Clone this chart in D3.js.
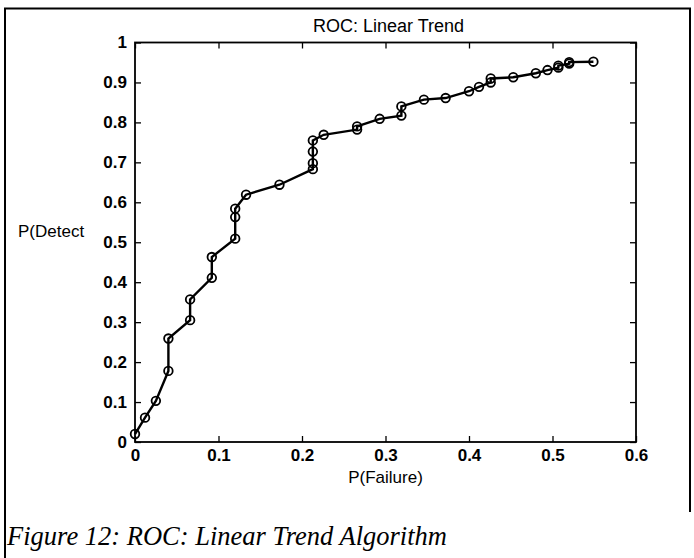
<!DOCTYPE html>
<html>
<head>
<meta charset="utf-8">
<script src="https://cdn.jsdelivr.net/npm/d3@7"></script>
<style>
  body { margin: 0; background: #fff; }
  svg { display: block; }
</style>
</head>
<body>
<script>
// ROC points (in drawing order)
var pFailure = [0, 0.012, 0.025, 0.04, 0.04, 0.066, 0.066, 0.092, 0.092, 0.12,
                0.12, 0.12, 0.133, 0.173, 0.213, 0.213, 0.213, 0.213, 0.226, 0.266,
                0.266, 0.293, 0.319, 0.319, 0.346, 0.372, 0.4, 0.412, 0.426, 0.426,
                0.453, 0.48, 0.494, 0.507, 0.507, 0.52, 0.52, 0.549];
var pDetect = [0.02, 0.061, 0.103, 0.178, 0.259, 0.305, 0.357, 0.411, 0.463, 0.509,
               0.563, 0.584, 0.619, 0.644, 0.683, 0.698, 0.727, 0.755, 0.769, 0.782,
               0.79, 0.809, 0.817, 0.84, 0.857, 0.861, 0.878, 0.889, 0.9, 0.91,
               0.913, 0.923, 0.931, 0.937, 0.942, 0.947, 0.951, 0.952];
var xTicks = [0, 0.1, 0.2, 0.3, 0.4, 0.5, 0.6];
var yTicks = [0, 0.1, 0.2, 0.3, 0.4, 0.5, 0.6, 0.7, 0.8, 0.9, 1];

var width = 694, height = 558;
var plot = {left: 135, right: 636, top: 42.5, bottom: 442};

var svg = d3.select('body')
    .append('svg')
    .attr('width', width)
    .attr('height', height);

// frame of the scanned page
svg.append('path')
    .attr('d', 'M5,558 V8.5 H690 V512')
    .attr('fill', 'none')
    .attr('stroke', 'black')
    .attr('stroke-width', 2);

var x = d3.scaleLinear().domain([0, 0.6]).range([plot.left, plot.right]);
var y = d3.scaleLinear().domain([0, 1]).range([plot.bottom, plot.top]);

var tickFont = '"Liberation Sans", Arial, sans-serif';

// matlab style: ticks inward on every side
function styleAxis(g) {
  g.select('.domain').remove();
  g.selectAll('.tick line').attr('stroke', 'black').attr('stroke-width', 1.3);
  g.selectAll('.tick text')
    .attr('fill', 'black')
    .style('font-family', tickFont)
    .style('font-weight', 'bold')
    .style('font-size', '17px');
}

svg.append('g')
    .attr('transform', 'translate(0,' + plot.bottom + ')')
    .call(d3.axisBottom(x).tickValues(xTicks).tickFormat(d3.format('')).tickSize(-6).tickPadding(7))
    .call(styleAxis);
svg.append('g')
    .attr('transform', 'translate(0,' + plot.top + ')')
    .call(d3.axisTop(x).tickValues(xTicks).tickFormat('').tickSize(-6))
    .call(styleAxis);
svg.append('g')
    .attr('transform', 'translate(' + plot.left + ',0)')
    .call(d3.axisLeft(y).tickValues(yTicks).tickFormat(d3.format('')).tickSize(-6).tickPadding(8))
    .call(styleAxis);
svg.append('g')
    .attr('transform', 'translate(' + plot.right + ',0)')
    .call(d3.axisRight(y).tickValues(yTicks).tickFormat('').tickSize(-6))
    .call(styleAxis);

svg.append('rect')
    .attr('x', plot.left)
    .attr('y', plot.top)
    .attr('width', plot.right - plot.left)
    .attr('height', plot.bottom - plot.top)
    .attr('fill', 'none')
    .attr('stroke', 'black')
    .attr('stroke-width', 1.8);

var pts = pFailure.map(function(d, i) { return {x: d, y: pDetect[i]}; });

var line = d3.line()
    .x(function(d) { return x(d.x); })
    .y(function(d) { return y(d.y); });

svg.append('path')
    .datum(pts)
    .attr('d', line)
    .attr('fill', 'none')
    .attr('stroke', 'black')
    .attr('stroke-width', 2.4);

svg.append('g')
    .selectAll('circle')
    .data(pts)
    .enter().append('circle')
    .attr('cx', function(d) { return x(d.x); })
    .attr('cy', function(d) { return y(d.y); })
    .attr('r', 4.3)
    .attr('fill', 'none')
    .attr('stroke', 'black')
    .attr('stroke-width', 1.8);

// labels
svg.append('text')
    .attr('x', (plot.left + plot.right) / 2 + 3)
    .attr('y', 32)
    .attr('text-anchor', 'middle')
    .style('font-family', tickFont)
    .style('font-size', '18px')
    .text('ROC: Linear Trend');

svg.append('text')
    .attr('x', (plot.left + plot.right) / 2)
    .attr('y', 483)
    .attr('text-anchor', 'middle')
    .style('font-family', tickFont)
    .style('font-size', '17px')
    .text('P(Failure)');

svg.append('text')
    .attr('x', 18)
    .attr('y', 237)
    .style('font-family', tickFont)
    .style('font-size', '17px')
    .text('P(Detect');

svg.append('text')
    .attr('x', 7)
    .attr('y', 545)
    .style('font-family', '"Liberation Serif", "Times New Roman", serif')
    .style('font-style', 'italic')
    .style('font-size', '26.5px')
    .text('Figure 12: ROC: Linear Trend Algorithm');
</script>
</body>
</html>
